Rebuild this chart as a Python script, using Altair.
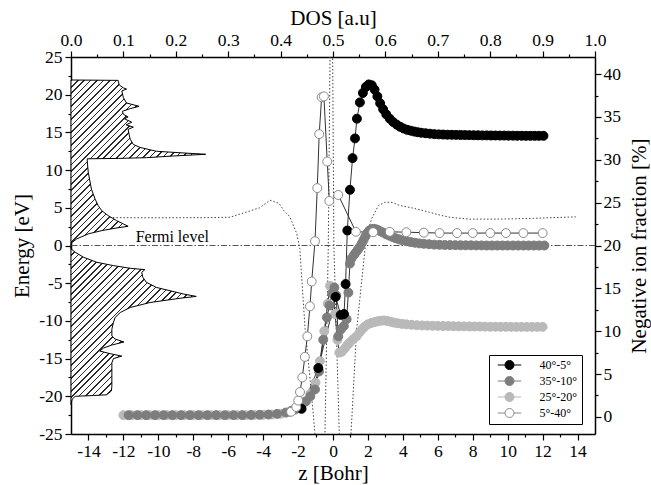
import altair as alt
import pandas as pd

FONT = "'Liberation Serif', 'Times New Roman', 'DejaVu Serif', serif"
PLOT_W, PLOT_H = 524, 377

# ---------------- data ----------------
# density of states (top axis) versus energy (left axis)
dos_E = [21.95, 21.9, 21.3, 20.9, 20.75, 20.5, 19.6, 18.9, 18.46, 18.15, 17.8, 17.4,
         17.05, 16.8, 16.35, 16.0, 15.7, 15.4, 14.7, 14.1, 13.4, 13.0, 12.5, 12.3,
         12.1, 11.87, 11.65, 11.55, 11.5,
         11.2, 9.67, 7.47, 6.15, 5.27, 4.6, 3.96, 3.3, 2.86, 2.55, 2.29, 1.98, 1.54,
         0.88, 0.35, 0.0,
         -0.44, -0.89, -1.56, -2.22, -2.67, -3.02, -3.2, -3.56, -4.22, -4.89, -5.56,
         -6.0, -6.44, -6.75, -7.0, -7.56, -8.22, -8.89, -9.56, -10.2, -11.1, -12.0,
         -12.4, -12.8, -13.2, -13.6, -14.0, -14.35, -14.67, -15.0, -15.56, -16.9,
         -18.7, -19.3, -19.8, -19.9, -20.0, -20.4, -21.1]
dos_val = [0.0, 0.090, 0.092, 0.100, 0.106, 0.097, 0.100, 0.106, 0.130, 0.113, 0.098, 0.100,
           0.109, 0.102, 0.116, 0.105, 0.119, 0.109, 0.111, 0.113, 0.119, 0.132, 0.163, 0.208,
           0.257, 0.195, 0.144, 0.090, 0.031,
           0.031, 0.033, 0.039, 0.046, 0.052, 0.059, 0.071, 0.087, 0.100, 0.109, 0.084, 0.059, 0.033,
           0.011, 0.001, 0.0,
           0.0, 0.008, 0.024, 0.049, 0.081, 0.113, 0.141, 0.135, 0.137, 0.144, 0.163,
           0.189, 0.215, 0.239, 0.208, 0.151, 0.113, 0.094, 0.084, 0.081, 0.078, 0.078,
           0.084, 0.101, 0.078, 0.062, 0.055, 0.075, 0.097, 0.081, 0.078, 0.078,
           0.078, 0.077, 0.068, 0.043, 0.008, 0.002, 0.0]

# Fermi level
fermi_E = [0.0]
fermi_text = ["Fermi level"]
fermi_text_z = [-9.2]
fermi_text_E = [0.45]

# dotted potential curve (z vs energy)
pot_z = [-12.8, -11.0, -9.0, -7.0, -5.9, -5.0, -4.2, -3.6, -3.1, -2.8, -2.47, -2.08, -1.9,
         -1.6, -1.3, -1.03, -0.95, -0.5, -0.46, -0.27, -0.17, -0.12, -0.05, -0.02, 0.05,
         0.36, 0.4, 0.95, 1.03, 1.35, 1.9, 2.2, 2.6, 3.0, 3.4, 3.83, 4.5, 5.17, 6.0, 6.7,
         7.8, 9.5, 11.5, 13.9]
pot_E = [3.7, 3.68, 3.68, 3.7, 3.75, 4.4, 5.0, 6.0, 5.6, 4.6, 3.8, 1.6, -0.4,
         -11.0, -18.0, -25.0, -28.0, -28.0, -25.0, 0.0, 25.0, 28.0, 28.0, 25.0, 0.0,
         -25.0, -28.0, -28.0, -25.0, -11.2, 1.0, 3.5, 5.3, 5.75, 5.7, 5.3, 5.0, 4.63, 4.1, 3.74,
         3.5, 3.5, 3.6, 3.8]

series_names = ["40°-5°", "35°-10°", "25°-20°", "5°-40°"]
series_fill = ["#000000", "#7d7d7d", "#b9b9b9", "#ffffff"]
series_stroke = ["#000000", "#7d7d7d", "#b9b9b9", "#8a8a8a"]

# 40°-5°
s1_z = [-1.8, -0.84, 0.15, 0.44, 0.63, 0.72, 0.82, 0.97, 1.12, 1.26, 1.37, 1.54, 1.71,
        1.88, 2.05, 2.22, 2.38, 2.54, 2.7, 2.87, 3.05, 3.25, 3.45, 3.65, 3.85, 4.05,
        4.25, 4.45, 4.65, 4.85, 5.05, 5.3, 5.55, 5.8, 6.05, 6.3, 6.55, 6.8, 7.05, 7.3,
        7.55, 7.8, 8.05, 8.3, 8.55, 8.8, 9.05, 9.3, 9.55, 9.8, 10.05, 10.3, 10.55,
        10.8, 11.05, 11.3, 11.55, 11.8, 12.05]
s1_f = [0.94, 5.7, 14.0, 11.9, 12.0, 15.5, 21.75, 26.5, 30.2, 32.5, 34.8, 36.7, 37.8,
        38.5, 38.8, 38.7, 38.2, 37.4, 36.6, 35.9, 35.3, 34.8, 34.4, 34.1, 33.85, 33.65,
        33.5, 33.4, 33.3, 33.22, 33.16, 33.1, 33.05, 33.0, 32.97, 32.95, 32.93, 32.92,
        32.91, 32.9, 32.89, 32.88, 32.87, 32.86, 32.85, 32.85, 32.84, 32.84, 32.83,
        32.83, 32.82, 32.82, 32.81, 32.81, 32.8, 32.8, 32.8, 32.8, 32.8]

# 35°-10°
s2_z = [-11.7, -11.2, -10.7, -10.2, -9.7, -9.2, -8.7, -8.2, -7.7, -7.2, -6.7, -6.2, -5.7,
        -5.2, -4.7, -4.2, -3.7, -3.2, -2.7, -2.4, -2.1, -1.8, -1.55, -1.3, -1.03, -0.8,
        -0.56, -0.35, -0.2, -0.05, 0.08, 0.18, 0.3, 0.45, 0.62, 0.78, 0.88, 0.97, 1.06,
        1.2, 1.31, 1.42, 1.54, 1.65, 1.75, 1.85, 1.96, 2.08, 2.2, 2.32, 2.45, 2.58, 2.72,
        2.88, 3.05, 3.22, 3.4, 3.58, 3.78, 3.98, 4.2, 4.45, 4.7, 4.95, 5.2, 5.5, 5.8,
        6.1, 6.4, 6.7, 7.0, 7.3, 7.6, 7.9, 8.2, 8.5, 8.8, 9.1, 9.4, 9.7, 10.0, 10.3,
        10.6, 10.9, 11.2, 11.5, 11.8, 12.1]
s2_f = [0.2, 0.2, 0.2, 0.2, 0.2, 0.2, 0.2, 0.2, 0.2, 0.2, 0.2, 0.2, 0.2,
        0.2, 0.22, 0.24, 0.27, 0.35, 0.5, 0.7, 0.95, 1.35, 1.8, 2.4, 3.2, 5.3,
        9.0, 11.6, 13.0, 14.4, 15.1, 14.2, 9.4, 10.2, 10.6, 11.4, 14.5, 17.9, 18.5,
        18.9, 19.2, 19.5, 19.85, 20.25, 20.65, 21.05, 21.45, 21.75, 21.9, 21.95, 21.9,
        21.8, 21.65, 21.5, 21.3, 21.15, 21.0, 20.85, 20.72, 20.6, 20.5, 20.4, 20.32,
        20.25, 20.2, 20.15, 20.1, 20.08, 20.06, 20.05, 20.04, 20.03, 20.02, 20.02,
        20.01, 20.01, 20.0, 20.0, 20.0, 20.0, 20.0, 20.0, 20.0, 20.0, 20.0, 20.0, 20.0, 20.0]

# 25°-20°
s3_z = [-12.0, -11.5, -11.0, -10.5, -10.0, -9.5, -9.0, -8.5, -8.0, -7.5, -7.0, -6.5, -6.0,
        -5.5, -5.0, -4.5, -4.0, -3.5, -3.0, -2.5, -2.2, -1.9, -1.6, -1.3, -1.0, -0.75,
        -0.5, -0.3, -0.17, -0.02, 0.12, 0.25, 0.36, 0.5, 0.68, 0.83, 0.97, 1.15, 1.35,
        1.52, 1.68, 1.83, 2.0, 2.18, 2.36, 2.54, 2.72, 2.9, 3.1, 3.3, 3.5, 3.7, 3.95,
        4.2, 4.5, 4.8, 5.1, 5.4, 5.7, 6.0, 6.3, 6.6, 6.9, 7.2, 7.5, 7.8, 8.1, 8.4, 8.7,
        9.0, 9.3, 9.6, 9.9, 10.2, 10.5, 10.8, 11.1, 11.4, 11.7, 12.0]
s3_f = [0.2, 0.2, 0.2, 0.2, 0.2, 0.2, 0.2, 0.2, 0.2, 0.2, 0.2, 0.2, 0.2,
        0.2, 0.2, 0.22, 0.24, 0.27, 0.35, 0.55, 0.8, 1.2, 1.8, 2.7, 4.0, 6.5,
        10.0, 13.2, 15.3, 15.0, 12.0, 9.0, 7.5, 7.6, 8.0, 8.4, 8.7, 9.05, 9.4,
        9.85, 10.25, 10.55, 10.8, 10.95, 11.05, 11.15, 11.22, 11.25, 11.2, 11.1, 11.0,
        10.92, 10.85, 10.8, 10.75, 10.7, 10.67, 10.65, 10.63, 10.62, 10.6, 10.6, 10.58,
        10.57, 10.56, 10.55, 10.55, 10.54, 10.53, 10.52, 10.52, 10.51, 10.51, 10.5,
        10.5, 10.5, 10.5, 10.5, 10.5, 10.5]

# 5°-40°
s4_z = [-2.4, -2.1, -1.99, -1.89, -1.76, -1.61, -1.47, -1.32, -1.22, -1.03, -0.9, -0.79,
        -0.65, -0.52, -0.33, -0.21, 0.3, 1.31, 2.3, 3.25, 4.2, 5.2, 6.1, 7.1, 8.0, 9.0,
        9.9, 10.9, 12.0]
s4_f = [0.6, 1.15, 1.9, 2.9, 4.6, 7.0, 9.4, 12.9, 15.8, 20.5, 26.7, 33.0,
        37.3, 37.4, 29.8, 25.2, 25.9, 21.6, 21.55, 21.6, 21.55, 21.5, 21.45, 21.45,
        21.45, 21.45, 21.45, 21.45, 21.45]

# axis tick values
z_ticks = [-14, -13, -12, -11, -10, -9, -8, -7, -6, -5, -4, -3, -2, -1, 0, 1, 2, 3, 4, 5,
           6, 7, 8, 9, 10, 11, 12, 13, 14]
dos_ticks = [0.0, 0.05, 0.1, 0.15, 0.2, 0.25, 0.3, 0.35, 0.4, 0.45, 0.5, 0.55, 0.6, 0.65,
             0.7, 0.75, 0.8, 0.85, 0.9, 0.95, 1.0]
E_ticks = [-25, -22.5, -20, -17.5, -15, -12.5, -10, -7.5, -5, -2.5, 0, 2.5, 5, 7.5, 10,
           12.5, 15, 17.5, 20, 22.5, 25]
frac_ticks = [0, 2.5, 5, 7.5, 10, 12.5, 15, 17.5, 20, 22.5, 25, 27.5, 30, 32.5, 35, 37.5, 40]

# ---------------- tables ----------------
dos_df = pd.DataFrame({"E": dos_E, "dos": dos_val})
fermi_df = pd.DataFrame({"E": fermi_E})
label_df = pd.DataFrame({"z": fermi_text_z, "E": fermi_text_E, "t": fermi_text})
pot_df = pd.DataFrame({"z": pot_z, "E": pot_E, "i": list(range(len(pot_z)))})

rows = []
draw_order = [2, 1, 0, 3]  # light grey, dark grey, black, open on top
for k in draw_order:
    zs, fs = [(s1_z, s1_f), (s2_z, s2_f), (s3_z, s3_f), (s4_z, s4_f)][k]
    for j, (zz, ff) in enumerate(zip(zs, fs)):
        rows.append({"z": zz, "f": ff, "series": series_names[k], "i": j, "k": k})
ser_df = pd.DataFrame(rows)

# ---------------- scales / axes ----------------
z_scale = alt.Scale(domain=[-15, 15], nice=False, zero=False)
E_scale = alt.Scale(domain=[-25, 25], nice=False, zero=False)
dos_scale = alt.Scale(domain=[0, 1], nice=False, zero=False)
f_scale = alt.Scale(domain=[-2, 42], nice=False, zero=False)

common = dict(labelFont=FONT, labelFontSize=17.5, labelColor="black",
              titleFont=FONT, titleFontSize=21, titleFontWeight="normal", titleColor="black",
              domainColor="black", domainWidth=1.5, tickColor="black", tickWidth=1.2,
              grid=False, labelFlush=False, labelOverlap=False, labelBound=False)

bottom_axis = alt.Axis(orient="bottom", values=z_ticks, title="z [Bohr]",
                       labelExpr="datum.value % 2 == 0 ? '' + datum.value : ''",
                       tickSize={"condition": {"test": "datum.value % 2 == 0", "value": 6}, "value": 3},
                       labelPadding=2, titlePadding=3, **common)
top_axis = alt.Axis(orient="top", values=dos_ticks, title="DOS [a.u]",
                    labelExpr="round(datum.value * 20) % 2 == 0 ? format(datum.value, '.1f') : ''",
                    tickSize={"condition": {"test": "round(datum.value * 20) % 2 == 0", "value": 6}, "value": 3},
                    labelPadding=2, titlePadding=3, **common)
left_axis = alt.Axis(orient="left", values=E_ticks, title="Energy [eV]",
                     labelExpr="datum.value % 5 == 0 ? '' + datum.value : ''",
                     tickSize={"condition": {"test": "datum.value % 5 == 0", "value": 6}, "value": 3},
                     labelPadding=3, titlePadding=6, **common)
right_axis = alt.Axis(orient="right", values=frac_ticks, title="Negative ion fraction [%]",
                      labelExpr="datum.value % 5 == 0 ? '' + datum.value : ''",
                      tickSize={"condition": {"test": "datum.value % 5 == 0", "value": 6}, "value": 3},
                      labelPadding=2, titlePadding=8, titleAngle=270, titleBaseline="top", **common)

# ---------------- hatch fill for the DOS area ----------------
W = max(dos_val) * PLOT_W
H = (max(dos_E) - min(dos_E)) / 50.0 * PLOT_H
c = (W + H) / (W * W + H * H)
n_stripes = int(round((W + H) / 6.5))
stops = []
for k in range(n_stripes):
    a = k / n_stripes
    b = (k + 0.24) / n_stripes
    stops += [{"offset": a, "color": "#ffffff"}, {"offset": a, "color": "#2a2a2a"},
              {"offset": b, "color": "#2a2a2a"}, {"offset": b, "color": "#ffffff"}]
stops.append({"offset": 1.0, "color": "#ffffff"})
hatch = {"gradient": "linear", "x1": 0, "y1": 0, "x2": c * W, "y2": c * H, "stops": stops}

# ---------------- layers ----------------
dos_layer = alt.Chart(dos_df).mark_area(
    orient="horizontal", fill=hatch, stroke="black", strokeWidth=1, interpolate="linear"
).encode(
    x=alt.X("dos:Q", scale=dos_scale, axis=top_axis, stack=None),
    y=alt.Y("E:Q", scale=E_scale, axis=left_axis),
)

fermi_rule = alt.Chart(fermi_df).mark_rule(
    color="#555555", strokeWidth=1, strokeDash=[6, 2, 1.5, 2]
).encode(y=alt.Y("E:Q", scale=E_scale, axis=None))

fermi_label = alt.Chart(label_df).mark_text(
    font=FONT, fontSize=16, color="black", baseline="alphabetic", align="center"
).encode(
    x=alt.X("z:Q", scale=z_scale, axis=bottom_axis),
    y=alt.Y("E:Q", scale=E_scale, axis=None),
    text="t:N",
)

pot_line = alt.Chart(pot_df).mark_line(
    clip=True, color="#444444", strokeWidth=1, strokeDash=[1.5, 2]
).encode(
    x=alt.X("z:Q", scale=z_scale, axis=bottom_axis),
    y=alt.Y("E:Q", scale=E_scale, axis=None),
    order="i:Q",
)

energy_layer = alt.layer(fermi_rule, fermi_label, pot_line)

legend = alt.Legend(
    title=None, orient="none", legendX=418, legendY=298,
    strokeColor="black", fillColor="white", padding=4,
    labelFont=FONT, labelFontSize=12, labelColor="black",
    symbolType="M-2.6,0L-1,0M1,0L2.6,0M1,0A1,1,0,1,1,-1,0A1,1,0,1,1,1,0Z",
    symbolSize=81, symbolStrokeWidth=1, symbolOffset=10.5, labelOffset=24,
    rowPadding=2,
)

ser_lines = alt.Chart(ser_df).mark_line(color="#333333", strokeWidth=1).encode(
    x=alt.X("z:Q", scale=z_scale, axis=None),
    y=alt.Y("f:Q", scale=f_scale, axis=right_axis),
    detail="series:N",
    order="i:Q",
)
ser_points = alt.Chart(ser_df).mark_point(
    shape="circle", filled=True, size=80, strokeWidth=1, opacity=1
).encode(
    x=alt.X("z:Q", scale=z_scale, axis=None),
    y=alt.Y("f:Q", scale=f_scale, axis=right_axis),
    fill=alt.Fill("series:N", scale=alt.Scale(domain=series_names, range=series_fill), legend=legend),
    stroke=alt.Stroke("series:N", scale=alt.Scale(domain=series_names, range=series_stroke), legend=legend),
)
series_layer = alt.layer(ser_lines, ser_points)

chart = alt.layer(dos_layer, energy_layer, series_layer).resolve_scale(
    x="independent", y="independent"
).properties(
    width=PLOT_W, height=PLOT_H,
    padding={"left": 71, "top": 57, "right": 56, "bottom": 51},
    autosize=alt.AutoSizeParams(type="none"),
    background="white",
).configure_view(stroke=None).configure_axis(
    labelFont=FONT, titleFont=FONT
).configure_legend(labelFont=FONT).configure_text(font=FONT)

chart.save("out.html", embed_options={"renderer": "svg", "actions": False})
